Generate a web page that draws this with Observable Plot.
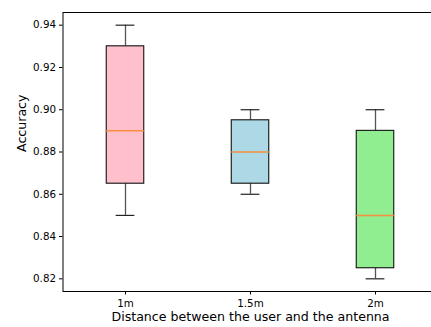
<!DOCTYPE html>
<html>
<head>
<meta charset="utf-8">
<script src="https://cdn.jsdelivr.net/npm/d3@7"></script>
<script src="https://cdn.jsdelivr.net/npm/@observablehq/plot@0.6"></script>
<style>
  html, body { margin: 0; padding: 0; background: #fff; }
  #chart svg { display: block; overflow: hidden; }
</style>
</head>
<body>
<div id="chart"></div>
<script>
const categories = ["1m", "1.5m", "2m"];
const positions = [1, 2, 3];
const whiskerLow = [0.85, 0.86, 0.82];
const q1 = [0.865, 0.865, 0.825];
const median = [0.89, 0.88, 0.85];
const q3 = [0.93, 0.895, 0.89];
const whiskerHigh = [0.94, 0.90, 0.90];
const fills = ["#ffc0cb", "#add8e6", "#90ee90"];
const yTicks = [0.82, 0.84, 0.86, 0.88, 0.90, 0.92, 0.94];
const xTitle = "Distance between the user and the antenna";
const yTitle = "Accuracy";

const rows = categories.map((c, i) => ({
  cat: c, pos: positions[i], lo: whiskerLow[i], q1: q1[i], med: median[i],
  q3: q3[i], hi: whiskerHigh[i], fill: fills[i]
}));

const boxHalf = 0.15, capHalf = 0.075;
const yDomain = [0.814, 0.946];
const xDomain = [0.5, 3.5];
const font = "DejaVu Sans, sans-serif";

const chart = Plot.plot({
  width: 431,
  height: 327,
  marginLeft: 62.5,
  marginRight: -6.5,
  marginTop: 12,
  marginBottom: 36,
  style: { fontFamily: font, color: "#000", background: "#fff" },
  x: { type: "linear", domain: xDomain },
  y: { domain: yDomain },
  marks: [
    // whiskers
    Plot.ruleX(rows, { x: "pos", y1: "q3", y2: "hi", stroke: "#555", strokeWidth: 1.3 }),
    Plot.ruleX(rows, { x: "pos", y1: "lo", y2: "q1", stroke: "#555", strokeWidth: 1.3 }),
    // caps
    Plot.ruleY(rows, { y: "hi", x1: d => d.pos - capHalf, x2: d => d.pos + capHalf, stroke: "#222", strokeWidth: 1.2 }),
    Plot.ruleY(rows, { y: "lo", x1: d => d.pos - capHalf, x2: d => d.pos + capHalf, stroke: "#222", strokeWidth: 1.2 }),
    // boxes
    Plot.rect(rows, { x1: d => d.pos - boxHalf, x2: d => d.pos + boxHalf, y1: "q1", y2: "q3", fill: "fill", stroke: "#111", strokeWidth: 1.1 }),
    // medians
    Plot.ruleY(rows, { y: "med", x1: d => d.pos - boxHalf, x2: d => d.pos + boxHalf, stroke: "#f5913e", strokeWidth: 1.5 }),
    // axes
    Plot.axisY(yTicks, { tickFormat: d3.format(".2f"), tickSize: 3.5, tickPadding: 3.5, fontSize: 10.3, label: null, stroke: "#000" }),
    Plot.axisX(positions, { tickFormat: (d, i) => categories[positions.indexOf(d)], tickSize: 3.5, tickPadding: 5, fontSize: 10.3, label: null, stroke: "#000" }),
    Plot.frame({ stroke: "#000", strokeWidth: 1 }),
    Plot.text([xTitle], { frameAnchor: "bottom", dy: 29, fontSize: 12.6, fill: "#000", text: d => d }),
    Plot.text([yTitle], { frameAnchor: "left", dx: -41.5, rotate: -90, fontSize: 12.6, fill: "#000", text: d => d })
  ]
});
document.getElementById("chart").appendChild(chart);
</script>
</body>
</html>
